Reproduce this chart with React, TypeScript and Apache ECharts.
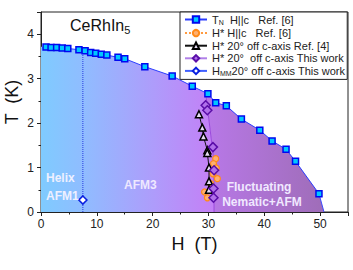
import React, { useEffect, useRef } from "react";
import * as echarts from "echarts";

// T_N, H || c, Ref. [6]
const tnH = [0.9, 1.8, 2.8, 3.8, 4.8, 6.8, 7.9, 8.9, 9.8, 10.8, 11.8, 13.8, 15.0, 18.6, 23.5, 27.1, 29.9, 31.3, 33.2, 35.9, 39.2, 41.4, 43.9, 45.6, 49.8];
const tnT = [3.71, 3.70, 3.70, 3.69, 3.68, 3.65, 3.63, 3.59, 3.57, 3.55, 3.53, 3.48, 3.45, 3.27, 3.06, 2.83, 2.66, 2.46, 2.39, 2.09, 1.84, 1.60, 1.41, 1.14, 0.41];
// phase envelope ends
const envStart = [0, 3.72];
const envEnd = [50.7, 0];
// H*, H || c, Ref. [6]
const hs6H = [31.3, 30.9, 31.4, 30.8, 31.6, 30.4, 29.3, 29.8];
const hs6T = [1.2, 1.09, 0.99, 0.86, 0.75, 0.64, 0.45, 0.32];
// H*, 20° off c-axis, Ref. [4]
const hs4H = [28.3, 28.9, 29.1, 29.8, 29.8, 30.1, 30.1, 30.1];
const hs4T = [2.2, 1.9, 1.7, 1.39, 1.33, 1.0, 0.69, 0.5];
// H*, 20° off c-axis, this work
const hsTwH = [29.5, 29.8, 30.8, 31.0, 30.9, 30.9];
const hsTwT = [2.4, 2.29, 1.46, 0.94, 0.53, 0.32];
// H_MM, 20° off c-axis, this work
const hmmH = [7.5];
const hmmT = [0.27];
// AFM3 / fluctuating boundary
const bndH = [29.5, 30.85, 31.0, 31.0];
const bndT = [2.68, 1.28, 0.6, 0];
// Helix/AFM3 dotted line
const dotH = [7.5, 7.5];
const dotT = [0, 3.63];

const xTicks = { min: 0, max: 55, interval: 10 };
const yTicks = { min: 0, max: 4.5, interval: 1 };

const FONT = "'Liberation Sans', Arial, sans-serif";

const zip = (a: number[], b: number[]) => a.map((v, i) => [v, b[i]]);

const legendLabels: Record<string, string> = {
  TN: "{n|T}{sub|N}{n|  H||c   Ref. [6]}",
  Hs6: "{n|H* H||c   Ref. [6]}",
  Hs4: "{n|H* 20° off c-axis Ref. [4]}",
  HsTW: "{n|H* 20°  off c-axis This work}",
  HMM: "{n|H}{sub|MM}{n|20° off c-axis This work}",
};

export default function App() {
  const ref = useRef<HTMLDivElement>(null);
  useEffect(() => {
    if (!ref.current) return;
    const chart = echarts.init(ref.current, null, { renderer: "svg" });
    const tnPts = zip(tnH, tnT);
    const bndPts = zip(bndH, bndT);
    const option: any = {
      animation: false,
      textStyle: { fontFamily: FONT },
      grid: { left: 41, right: 5, top: 12, bottom: 58, show: true, borderColor: "#222", borderWidth: 1 },
      xAxis: {
        type: "value",
        ...xTicks,
        name: "H  (T)",
        nameLocation: "middle",
        nameGap: 23,
        nameTextStyle: { fontSize: 18, color: "#111", fontFamily: FONT },
        axisLine: { onZero: false, lineStyle: { color: "#222", width: 1 } },
        axisTick: { length: 4, lineStyle: { color: "#222" } },
        minorTick: { show: true, splitNumber: 2, length: 2.5, lineStyle: { color: "#222" } },
        axisLabel: { fontSize: 12, color: "#222", margin: 6, fontFamily: FONT, showMaxLabel: false },
        splitLine: { show: false },
      },
      yAxis: {
        type: "value",
        ...yTicks,
        axisLine: { onZero: false, lineStyle: { color: "#222", width: 1 } },
        axisTick: { length: 4, lineStyle: { color: "#222" } },
        minorTick: { show: true, splitNumber: 2, length: 2.5, lineStyle: { color: "#222" } },
        axisLabel: { fontSize: 12, color: "#222", margin: 7, fontFamily: FONT, showMaxLabel: false },
        splitLine: { show: false },
      },
      legend: {
        orient: "vertical",
        left: 180,
        top: 12,
        itemWidth: 22,
        itemHeight: 8,
        itemGap: 1.6,
        padding: [2, 2, 2, 4],
        backgroundColor: "#fff",
        borderColor: "#222",
        borderWidth: 1,
        borderRadius: 0,
        data: [
          { name: "TN" },
          { name: "Hs6", lineStyle: { opacity: 1 } },
          { name: "Hs4" },
          { name: "HsTW", lineStyle: { opacity: 1 } },
          { name: "HMM" },
        ],
        formatter: (name: string) => legendLabels[name] || name,
        textStyle: {
          fontSize: 11,
          color: "#222",
          fontFamily: FONT,
          rich: {
            n: { fontSize: 11, lineHeight: 13, color: "#222", fontFamily: FONT },
            sub: { fontSize: 7, lineHeight: 8, verticalAlign: "bottom", color: "#222", fontFamily: FONT },
          },
        },
      },
      graphic: [
        {
          type: "text",
          left: 70,
          top: 17,
          style: {
            text: "{a|CeRhIn}{b|5}",
            rich: {
              a: { fontSize: 16, fill: "#111", fontFamily: FONT, lineHeight: 20 },
              b: { fontSize: 11, fill: "#111", fontFamily: FONT, lineHeight: 11, verticalAlign: "bottom" },
            },
          },
          z: 10,
        },
        {
          type: "text",
          x: 12,
          y: 102,
          rotation: Math.PI / 2,
          style: { text: "T  (K)", fontSize: 18, fill: "#111", fontFamily: FONT, align: "center", verticalAlign: "middle" },
          z: 10,
        },
        { type: "text", x: 46, y: 178, style: { text: "Helix", fontSize: 12, fontWeight: "bold", fill: "#eef0ff", fontFamily: FONT, verticalAlign: "middle" }, z: 10 },
        { type: "text", x: 46, y: 196, style: { text: "AFM1", fontSize: 12, fontWeight: "bold", fill: "#eef0ff", fontFamily: FONT, verticalAlign: "middle" }, z: 10 },
        { type: "text", x: 124, y: 185, style: { text: "AFM3", fontSize: 12, fontWeight: "bold", fill: "#eee8ff", fontFamily: FONT, verticalAlign: "middle" }, z: 10 },
        { type: "text", x: 259, y: 187, style: { text: "Fluctuating", fontSize: 12, fontWeight: "bold", fill: "#f0e8ff", fontFamily: FONT, align: "center", verticalAlign: "middle" }, z: 10 },
        { type: "text", x: 262, y: 202, style: { text: "Nematic+AFM", fontSize: 12, fontWeight: "bold", fill: "#f0e8ff", fontFamily: FONT, align: "center", verticalAlign: "middle" }, z: 10 },
      ],
      series: [
        {
          type: "custom",
          name: "regions",
          silent: true,
          z: 1,
          data: [[0, 0]],
          renderItem: (_params: any, api: any) => {
            const P = (p: number[]) => api.coord(p);
            const top = bndPts[0];
            const leftPts = [
              P([envStart[0], envStart[1]]),
              ...tnPts.filter((p) => p[0] < top[0]).map(P),
              ...bndPts.map(P),
              P([0, 0]),
            ];
            const rightPts = [
              ...tnPts.filter((p) => p[0] > top[0]).map(P),
              P([envEnd[0], envEnd[1]]),
              ...bndPts.slice().reverse().map(P),
            ];
            const tail = [P(tnPts[tnPts.length - 1]), P([envEnd[0], envEnd[1]])];
            return {
              type: "group",
              children: [
                {
                  type: "polygon",
                  shape: { points: leftPts },
                  style: {
                    fill: new echarts.graphic.LinearGradient(0, 0, 1, 0, [
                      { offset: 0, color: "#7fcbff" },
                      { offset: 0.25, color: "#90bcff" },
                      { offset: 0.65, color: "#ae9cfb" },
                      { offset: 1, color: "#c47ff6" },
                    ]),
                  },
                },
                {
                  type: "polygon",
                  shape: { points: rightPts },
                  style: {
                    fill: new echarts.graphic.LinearGradient(0, 0, 1, 0, [
                      { offset: 0, color: "#b878e8" },
                      { offset: 1, color: "#9f6db8" },
                    ]),
                  },
                },
                { type: "polyline", shape: { points: bndPts.map(P) }, style: { stroke: "#9a48dc", lineWidth: 1, fill: null } },
                { type: "polyline", shape: { points: tail }, style: { stroke: "#3a4cff", lineWidth: 1, fill: null } },
              ],
            };
          },
        },
        {
          type: "line",
          name: "dotted",
          data: zip(dotH, dotT),
          symbol: "none",
          silent: true,
          z: 3,
          lineStyle: { type: "dotted", color: "#2a3ce0", width: 1 },
        },
        {
          type: "line",
          name: "TN",
          data: tnPts,
          symbol: "rect",
          symbolSize: 6,
          z: 5,
          lineStyle: { color: "#2a3cff", width: 1 },
          itemStyle: { color: "#00c8ff", borderColor: "#0008f0", borderWidth: 1.5 },
        },
        {
          type: "line",
          name: "Hs6",
          data: zip(hs6H, hs6T),
          symbol: "circle",
          symbolSize: 6,
          z: 5,
          lineStyle: { type: "dotted", color: "#ff9a40", width: 1, opacity: 0 },
          itemStyle: { color: "#ffb070", borderColor: "#ff8a1a", borderWidth: 1.2 },
        },
        {
          type: "line",
          name: "Hs4",
          data: zip(hs4H, hs4T),
          symbol: "triangle",
          symbolSize: 7,
          z: 6,
          lineStyle: { color: "#111", width: 1 },
          itemStyle: { color: "#e6dcf4", borderColor: "#000", borderWidth: 1.5 },
        },
        {
          type: "line",
          name: "HsTW",
          data: zip(hsTwH, hsTwT),
          symbol: "diamond",
          symbolSize: 9,
          z: 6,
          lineStyle: { color: "#b080e8", width: 1, opacity: 0 },
          itemStyle: { color: "#b070ea", borderColor: "#5a0ea8", borderWidth: 1.5 },
        },
        {
          type: "line",
          name: "HMM",
          data: zip(hmmH, hmmT),
          symbol: "diamond",
          symbolSize: 8,
          z: 6,
          lineStyle: { color: "#4060ff", width: 1 },
          itemStyle: { color: "#fff", borderColor: "#0a20e0", borderWidth: 1.6 },
        },
      ],
    };
    chart.setOption(option);
    return () => chart.dispose();
  }, []);
  return <div ref={ref} style={{ width: 353, height: 270, position: "absolute", left: 0, top: 0 }} />;
}
